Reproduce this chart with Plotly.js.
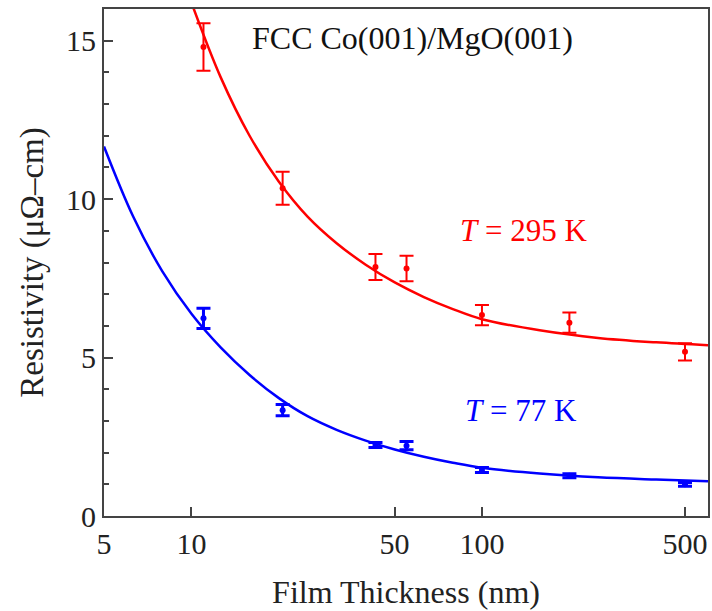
<!DOCTYPE html>
<html>
<head>
<meta charset="utf-8">
<script src="https://cdn.plot.ly/plotly-3.0.1.min.js"></script>
<style>html,body{margin:0;padding:0;background:#fff;}#chart{width:712px;height:611px;}</style>
</head>
<body>
<div id="chart"></div>
<script>
// Measured data points
const thickness = [11, 20.6, 43, 55, 100, 200, 500];
const rho295 = [14.80, 10.34, 7.86, 7.81, 6.34, 6.10, 5.18];
const err295 = [0.75, 0.52, 0.41, 0.40, 0.32, 0.32, 0.27];
const rho77 = [6.24, 3.34, 2.24, 2.22, 1.45, 1.27, 1.00];
const err77 = [0.32, 0.18, 0.08, 0.13, 0.08, 0.06, 0.06];

// Fit curves
const fitX295 = [10, 12.6, 15.85, 20, 25.1, 31.6, 39.8, 50.1, 63.1, 79.4, 100, 158, 251, 398, 600];
const fitY295 = [16.2, 13.85, 12.0, 10.55, 9.45, 8.61, 7.93, 7.37, 6.91, 6.53, 6.21, 5.86, 5.62, 5.48, 5.39];
const fitX77 = [5, 6.3, 7.94, 10, 12.6, 15.85, 20, 25.1, 31.6, 39.8, 50.1, 63.1, 79.4, 100, 158, 251, 398, 600];
const fitY77 = [11.66, 9.45, 7.72, 6.38, 5.32, 4.45, 3.72, 3.15, 2.72, 2.38, 2.1, 1.87, 1.68, 1.52, 1.34, 1.22, 1.15, 1.10];

const xTicks = [5, 10, 50, 100, 500];
const xTickText = ['5', '10', '50', '100', '500'];
const yTicks = [0, 5, 10, 15];

const RED = '#ff0000', BLUE = '#0000ff';
const FONT = 'Liberation Serif, Times New Roman, serif';

const traces = [
  {x: fitX295, y: fitY295, mode: 'lines', line: {color: RED, width: 2.5, shape: 'spline', smoothing: 1}, hoverinfo: 'skip'},
  {x: fitX77, y: fitY77, mode: 'lines', line: {color: BLUE, width: 2.5, shape: 'spline', smoothing: 1}, hoverinfo: 'skip'},
  {x: thickness, y: rho295, mode: 'markers', marker: {color: RED, size: 6},
   error_y: {type: 'data', array: err295, visible: true, color: RED, thickness: 2, width: 7}},
  {x: thickness, y: rho77, mode: 'markers', marker: {color: BLUE, size: 6},
   error_y: {type: 'data', array: err77, visible: true, color: BLUE, thickness: 3, width: 7}}
];

const layout = {
  width: 712, height: 611,
  margin: {l: 104, r: 4, t: 9, b: 95},
  paper_bgcolor: '#fff', plot_bgcolor: '#fff',
  showlegend: false,
  font: {family: FONT, size: 30, color: '#222'},
  xaxis: {
    type: 'log', range: [Math.log10(5), Math.log10(600)],
    tickvals: xTicks, ticktext: xTickText,
    ticks: 'inside', ticklen: 9, tickwidth: 2, tickcolor: '#444',
    showline: true, linecolor: '#444', linewidth: 2, mirror: true,
    showgrid: false, zeroline: false,
    tickfont: {family: FONT, size: 30, color: '#222'},
    title: {text: 'Film Thickness (nm)', font: {family: FONT, size: 32, color: '#222'}, standoff: 22}
  },
  yaxis: {
    range: [0, 16], tickvals: yTicks,
    ticks: 'inside', ticklen: 9, tickwidth: 2, tickcolor: '#444',
    minor: {dtick: 1, ticks: 'inside', ticklen: 5, tickwidth: 2, tickcolor: '#444'},
    showline: true, linecolor: '#444', linewidth: 2, mirror: true,
    showgrid: false, zeroline: false,
    ticklabelstandoff: 0,
    tickfont: {family: FONT, size: 30, color: '#222'},
    title: {text: 'Resistivity (μΩ–cm)', font: {family: FONT, size: 33, color: '#222'}, standoff: 12}
  },
  annotations: [
    {xref: 'paper', yref: 'paper', x: 0.51, y: 0.943, xanchor: 'center', yanchor: 'middle',
     text: 'FCC Co(001)/MgO(001)', showarrow: false,
     font: {family: FONT, size: 32, color: '#111'}},
    {xref: 'paper', yref: 'paper', x: 0.694, y: 0.564, xanchor: 'center', yanchor: 'middle',
     text: '<i>T</i> = 295 K', showarrow: false,
     font: {family: FONT, size: 31, color: RED}},
    {xref: 'paper', yref: 'paper', x: 0.69, y: 0.209, xanchor: 'center', yanchor: 'middle',
     text: '<i>T</i> = 77 K', showarrow: false,
     font: {family: FONT, size: 31, color: BLUE}}
  ]
};

Plotly.newPlot('chart', traces, layout, {displayModeBar: false, staticPlot: true});
</script>
</body>
</html>
